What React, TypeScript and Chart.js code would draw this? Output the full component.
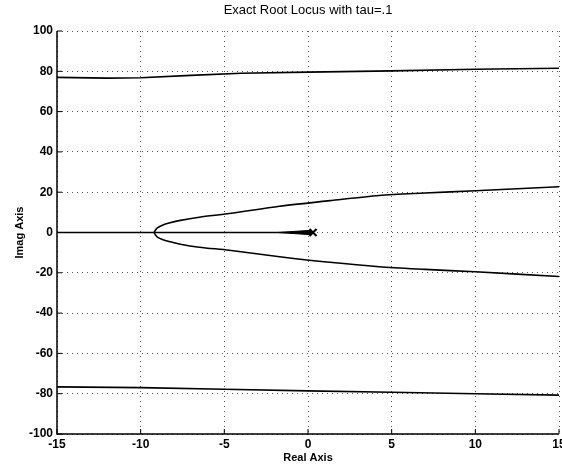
import React, { useEffect, useRef } from "react";
import { Chart, registerables } from "chart.js";

Chart.register(...registerables);

const titleText = "Exact Root Locus with tau=.1";
const xLabel = "Real Axis";
const yLabel = "Imag Axis";

const xTicks = [-15, -10, -5, 0, 5, 10, 15];
const yTicks = [-100, -80, -60, -40, -20, 0, 20, 40, 60, 80, 100];

const topX = [-15, -12, -10, -7, -4, 0, 5, 10, 15];
const topY = [77, 76.6, 76.8, 78, 79, 79.6, 80.2, 81, 81.5];

const bottomX = [-15, -10, -5, 0, 5, 10, 15];
const bottomY = [-76.6, -77, -77.8, -78.6, -79.3, -80, -80.7];

const upperX = [-9.2, -9.1, -9.0, -8.7, -8.3, -7.7, -6.5, -4.7, -1.7, 1.3, 4.25, 7, 10, 15];
const upperY = [0, 1.4, 2.3, 3.6, 4.7, 5.9, 7.6, 9.4, 13, 15.8, 18.4, 19.6, 20.7, 22.7];

const lowerX = [-9.2, -9.1, -9.0, -8.7, -8.3, -7.7, -6.5, -4.7, -1.7, 1.3, 4.25, 7, 10, 15];
const lowerY = [0, -1.4, -2.3, -3.5, -4.5, -5.7, -7.3, -8.8, -12, -14.8, -17, -18.3, -19.5, -21.8];

const realAxisX = [-15, 0.3];
const realAxisY = [0, 0];

const wedgeX = [-1.8, 0.2, 0.2, -1.8];
const wedgeY = [0, 1.1, -1.1, 0];

const poleX = [0.3];
const poleY = [0];

const pts = (xs: number[], ys: number[]) => xs.map((x, i) => ({ x, y: ys[i] }));

const FONT = '"Liberation Sans", Arial, sans-serif';

const framePlugin = {
  id: "frame",
  afterDraw(chart: any) {
    const { ctx, chartArea: a, scales } = chart;
    ctx.save();
    ctx.strokeStyle = "#000";
    ctx.lineWidth = 1.5;
    ctx.beginPath();
    ctx.moveTo(a.left, a.top);
    ctx.lineTo(a.left, a.bottom);
    ctx.lineTo(a.right, a.bottom);
    ctx.stroke();
    ctx.lineWidth = 1;
    ctx.beginPath();
    for (const v of xTicks) {
      const px = scales.x.getPixelForValue(v);
      ctx.moveTo(px, a.bottom);
      ctx.lineTo(px, a.bottom - 5);
    }
    for (const v of yTicks) {
      const py = scales.y.getPixelForValue(v);
      ctx.moveTo(a.left, py);
      ctx.lineTo(a.left + 5, py);
    }
    ctx.stroke();
    ctx.fillStyle = "#000";
    ctx.textAlign = "center";
    ctx.textBaseline = "middle";
    ctx.font = `13px ${FONT}`;
    ctx.fillText(titleText, (a.left + a.right) / 2, 10);
    ctx.font = `bold 11px ${FONT}`;
    ctx.fillText(xLabel, (a.left + a.right) / 2, 458);
    ctx.translate(20, (a.top + a.bottom) / 2);
    ctx.rotate(-Math.PI / 2);
    ctx.fillText(yLabel, 0, 0);
    ctx.restore();
  },
};

export default function App() {
  const ref = useRef<HTMLCanvasElement | null>(null);
  useEffect(() => {
    if (!ref.current) return;
    const line = (data: any[], extra: any = {}) => ({
      data,
      showLine: true,
      borderColor: "#000",
      backgroundColor: "#000",
      borderWidth: 1.6,
      pointRadius: 0,
      tension: 0,
      ...extra,
    });
    const chart = new Chart(ref.current, {
      type: "scatter",
      data: {
        datasets: [
          line(pts(topX, topY)),
          line(pts(bottomX, bottomY)),
          line(pts(upperX, upperY), { tension: 0.3 }),
          line(pts(lowerX, lowerY), { tension: 0.3 }),
          line(pts(realAxisX, realAxisY)),
          line(pts(wedgeX, wedgeY), { fill: "shape", borderWidth: 1 }),
          {
            data: pts(poleX, poleY),
            showLine: false,
            pointStyle: "crossRot",
            pointRadius: 5,
            borderColor: "#000",
            borderWidth: 2,
          },
        ],
      },
      options: {
        animation: false,
        responsive: false,
        layout: { autoPadding: false, padding: { left: 0, top: 31, right: 3, bottom: 0 } },
        plugins: { legend: { display: false }, tooltip: { enabled: false }, title: { display: false } },
        scales: {
          x: {
            type: "linear",
            min: -15,
            max: 15,
            afterFit: (s: any) => { s.height = 33; s.paddingRight = 0; s.paddingLeft = 0; },
            afterBuildTicks: (s: any) => { s.ticks = xTicks.map((v) => ({ value: v })); },
            border: { display: false, dash: [1, 4] },
            grid: { color: "#555", lineWidth: 1, drawTicks: false },
            ticks: { color: "#000", padding: 3, font: { family: FONT, size: 12, weight: "bold" }, maxRotation: 0 },
          },
          y: {
            type: "linear",
            min: -100,
            max: 100,
            afterFit: (s: any) => { s.width = 57; s.paddingTop = 0; s.paddingBottom = 0; },
            afterBuildTicks: (s: any) => { s.ticks = yTicks.map((v) => ({ value: v })); },
            border: { display: false, dash: [1, 4] },
            grid: { color: "#555", lineWidth: 1, drawTicks: false },
            ticks: { color: "#000", padding: 4, font: { family: FONT, size: 12, weight: "bold" } },
          },
        },
      },
      plugins: [framePlugin],
    } as any);
    return () => chart.destroy();
  }, []);
  return (
    <div style={{ position: "fixed", left: 0, top: 0, width: 562, height: 467, background: "#fff" }}>
      <canvas ref={ref} width={562} height={467} style={{ display: "block" }} />
    </div>
  );
}
